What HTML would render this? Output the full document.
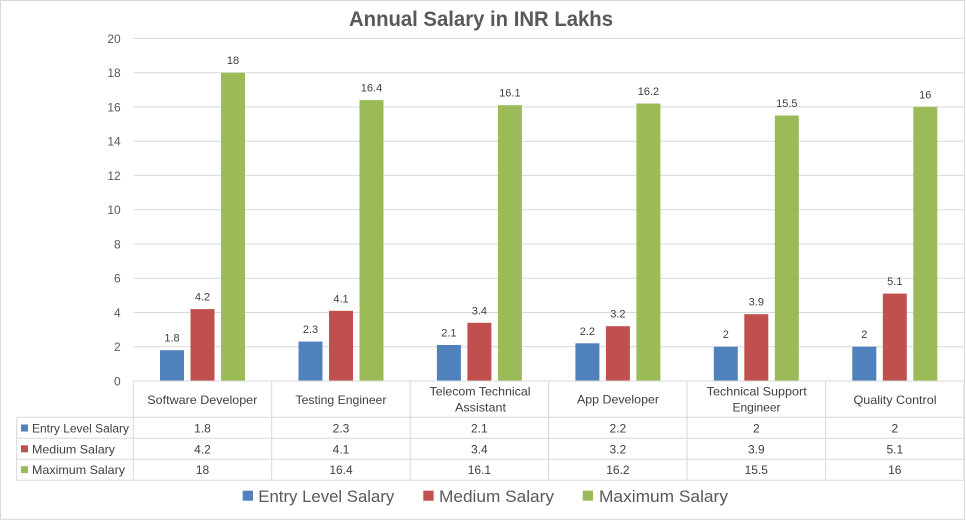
<!DOCTYPE html>
<html>
<head>
<meta charset="utf-8">
<style>
  html,body{margin:0;padding:0;background:#fff;}
  svg{display:block;}
  text{font-family:"Liberation Sans", sans-serif;}
</style>
</head>
<body>
<svg width="966" height="520" viewBox="0 0 966 520" xmlns="http://www.w3.org/2000/svg">
  <rect x="0" y="0" width="966" height="520" fill="#fff"/>
  <rect x="0.5" y="0.5" width="964" height="518.8" fill="none" stroke="#d9d9d9" stroke-width="1"/>

  <!-- Title -->
  <text x="481" y="26" text-anchor="middle" font-size="21" font-weight="bold" fill="#595959" textLength="264" lengthAdjust="spacingAndGlyphs">Annual Salary in INR Lakhs</text>

  <!-- Gridlines -->
  <g stroke="#d9d9d9" stroke-width="1">
    <line x1="133.3" y1="38.4" x2="964" y2="38.4"/>
    <line x1="133.3" y1="72.7" x2="964" y2="72.7"/>
    <line x1="133.3" y1="106.9" x2="964" y2="106.9"/>
    <line x1="133.3" y1="141.2" x2="964" y2="141.2"/>
    <line x1="133.3" y1="175.4" x2="964" y2="175.4"/>
    <line x1="133.3" y1="209.7" x2="964" y2="209.7"/>
    <line x1="133.3" y1="244.0" x2="964" y2="244.0"/>
    <line x1="133.3" y1="278.2" x2="964" y2="278.2"/>
    <line x1="133.3" y1="312.5" x2="964" y2="312.5"/>
    <line x1="133.3" y1="346.7" x2="964" y2="346.7"/>
  </g>

  <!-- Y axis labels -->
  <g font-size="12" fill="#595959" text-anchor="end">
    <text x="120.7" y="42.9">20</text>
    <text x="120.7" y="77.2">18</text>
    <text x="120.7" y="111.4">16</text>
    <text x="120.7" y="145.7">14</text>
    <text x="120.7" y="179.9">12</text>
    <text x="120.7" y="214.2">10</text>
    <text x="120.7" y="248.5">8</text>
    <text x="120.7" y="282.7">6</text>
    <text x="120.7" y="317.0">4</text>
    <text x="120.7" y="351.2">2</text>
    <text x="120.7" y="385.5">0</text>
  </g>

  <!-- Bars: Entry (blue) -->
  <g fill="#4f81bd">
    <rect x="160" y="350.2" width="24" height="30.8"/>
    <rect x="298.5" y="341.6" width="24" height="39.4"/>
    <rect x="436.9" y="345.0" width="24" height="36.0"/>
    <rect x="575.4" y="343.3" width="24" height="37.7"/>
    <rect x="713.8" y="346.7" width="24" height="34.3"/>
    <rect x="852.3" y="346.7" width="24" height="34.3"/>
  </g>
  <!-- Medium (red) -->
  <g fill="#c0504d">
    <rect x="190.5" y="309.1" width="24" height="71.9"/>
    <rect x="329" y="310.8" width="24" height="70.2"/>
    <rect x="467.4" y="322.8" width="24" height="58.2"/>
    <rect x="605.9" y="326.2" width="24" height="54.8"/>
    <rect x="744.3" y="314.2" width="24" height="66.8"/>
    <rect x="882.8" y="293.6" width="24" height="87.4"/>
  </g>
  <!-- Maximum (green) -->
  <g fill="#9bbb59">
    <rect x="221" y="72.7" width="24" height="308.3"/>
    <rect x="359.5" y="100.1" width="24" height="280.9"/>
    <rect x="497.9" y="105.2" width="24" height="275.8"/>
    <rect x="636.4" y="103.5" width="24" height="277.5"/>
    <rect x="774.8" y="115.5" width="24" height="265.5"/>
    <rect x="913.3" y="106.9" width="24" height="274.1"/>
  </g>

  <!-- Data labels -->
  <g font-size="11" fill="#404040" text-anchor="middle">
    <text x="172" y="341.7">1.8</text>
    <text x="310.5" y="333.1">2.3</text>
    <text x="448.9" y="336.5">2.1</text>
    <text x="587.4" y="334.8">2.2</text>
    <text x="725.8" y="338.2">2</text>
    <text x="864.3" y="338.2">2</text>

    <text x="202.5" y="300.6">4.2</text>
    <text x="341" y="302.3">4.1</text>
    <text x="479.4" y="314.3">3.4</text>
    <text x="617.9" y="317.7">3.2</text>
    <text x="756.3" y="305.7">3.9</text>
    <text x="894.8" y="285.1">5.1</text>

    <text x="233" y="64.2">18</text>
    <text x="371.5" y="91.6">16.4</text>
    <text x="509.9" y="96.7">16.1</text>
    <text x="648.4" y="95.0">16.2</text>
    <text x="786.8" y="107.0">15.5</text>
    <text x="925.3" y="98.4">16</text>
  </g>

  <!-- Data table lines -->
  <g stroke="#d9d9d9" stroke-width="1">
    <line x1="133.3" y1="381" x2="964" y2="381"/>
    <line x1="16.7" y1="417.3" x2="964" y2="417.3"/>
    <line x1="16.7" y1="438.3" x2="964" y2="438.3"/>
    <line x1="16.7" y1="459.3" x2="964" y2="459.3"/>
    <line x1="16.7" y1="480.2" x2="964" y2="480.2"/>
    <line x1="16.7" y1="417.3" x2="16.7" y2="480.2"/>
    <line x1="133.3" y1="381" x2="133.3" y2="480.2"/>
    <line x1="271.7" y1="381" x2="271.7" y2="480.2"/>
    <line x1="410.2" y1="381" x2="410.2" y2="480.2"/>
    <line x1="548.6" y1="381" x2="548.6" y2="480.2"/>
    <line x1="687.1" y1="381" x2="687.1" y2="480.2"/>
    <line x1="825.6" y1="381" x2="825.6" y2="480.2"/>
    <line x1="964" y1="381" x2="964" y2="480.2"/>
  </g>

  <!-- Category labels -->
  <g font-size="12" fill="#404040" text-anchor="middle">
    <text x="202.3" y="404" textLength="110" lengthAdjust="spacingAndGlyphs">Software Developer</text>
    <text x="341" y="404" textLength="91" lengthAdjust="spacingAndGlyphs">Testing Engineer</text>
    <text x="480" y="395.5" textLength="101" lengthAdjust="spacingAndGlyphs">Telecom Technical</text>
    <text x="480.5" y="411.5" textLength="51" lengthAdjust="spacingAndGlyphs">Assistant</text>
    <text x="618" y="403.5" textLength="82" lengthAdjust="spacingAndGlyphs">App Developer</text>
    <text x="756.7" y="395.5" textLength="100" lengthAdjust="spacingAndGlyphs">Technical Support</text>
    <text x="756.5" y="411.5" textLength="48" lengthAdjust="spacingAndGlyphs">Engineer</text>
    <text x="895" y="404" textLength="83" lengthAdjust="spacingAndGlyphs">Quality Control</text>
  </g>

  <!-- Row labels -->
  <rect x="21" y="424.5" width="7" height="7" fill="#4f81bd"/>
  <rect x="21" y="445.3" width="7" height="7" fill="#c0504d"/>
  <rect x="21" y="466.2" width="7" height="7" fill="#9bbb59"/>
  <g font-size="12" fill="#404040">
    <text x="32" y="432.5" textLength="97" lengthAdjust="spacingAndGlyphs">Entry Level Salary</text>
    <text x="32" y="453.3" textLength="83" lengthAdjust="spacingAndGlyphs">Medium Salary</text>
    <text x="32" y="474.2" textLength="93" lengthAdjust="spacingAndGlyphs">Maximum Salary</text>
  </g>

  <!-- Table values -->
  <g font-size="12" fill="#404040" text-anchor="middle">
    <text x="202.5" y="432.5">1.8</text>
    <text x="341" y="432.5">2.3</text>
    <text x="479.4" y="432.5">2.1</text>
    <text x="617.9" y="432.5">2.2</text>
    <text x="756.3" y="432.5">2</text>
    <text x="894.8" y="432.5">2</text>

    <text x="202.5" y="453.3">4.2</text>
    <text x="341" y="453.3">4.1</text>
    <text x="479.4" y="453.3">3.4</text>
    <text x="617.9" y="453.3">3.2</text>
    <text x="756.3" y="453.3">3.9</text>
    <text x="894.8" y="453.3">5.1</text>

    <text x="202.5" y="474.2">18</text>
    <text x="341" y="474.2">16.4</text>
    <text x="479.4" y="474.2">16.1</text>
    <text x="617.9" y="474.2">16.2</text>
    <text x="756.3" y="474.2">15.5</text>
    <text x="894.8" y="474.2">16</text>
  </g>

  <!-- Legend -->
  <rect x="242.7" y="490.7" width="10.3" height="10" fill="#4f81bd"/>
  <rect x="423.3" y="490.7" width="10.3" height="10" fill="#c0504d"/>
  <rect x="582.7" y="490.7" width="10.3" height="10" fill="#9bbb59"/>
  <g font-size="17" fill="#595959">
    <text x="258.3" y="501.8" textLength="136" lengthAdjust="spacingAndGlyphs">Entry Level Salary</text>
    <text x="439" y="501.8" textLength="115" lengthAdjust="spacingAndGlyphs">Medium Salary</text>
    <text x="599" y="501.8" textLength="129" lengthAdjust="spacingAndGlyphs">Maximum Salary</text>
  </g>
</svg>
</body>
</html>
